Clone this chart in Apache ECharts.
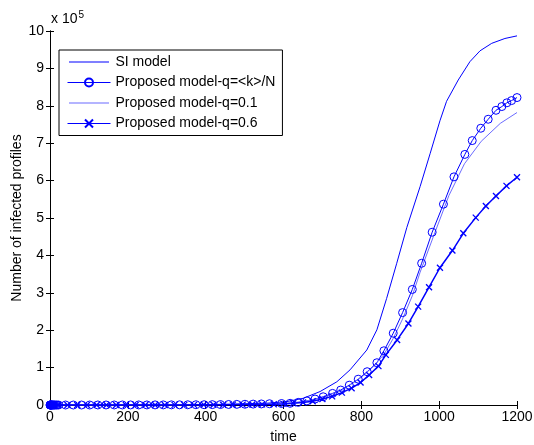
<!DOCTYPE html>
<html>
<head>
<meta charset="utf-8">
<script src="https://cdn.jsdelivr.net/npm/echarts@6/dist/echarts.min.js"></script>
<style>
  html, body { margin: 0; padding: 0; background: #fff; }
  #chart { width: 534px; height: 445px; }
</style>
</head>
<body>
<div id="chart"></div>
<script>
// Infected profiles over time, values in units of 10^5.
const seriesNames = ['SI model', 'Proposed model-q=<k>/N', 'Proposed model-q=0.1', 'Proposed model-q=0.6'];

const siTime = [0, 100, 200, 300, 400, 500, 560, 608, 651, 694, 737, 771, 814, 840, 865, 891, 917, 951, 977, 1002, 1019, 1049, 1079, 1105, 1135, 1169, 1200];
const siValue = [0, 0.001, 0.002, 0.004, 0.01, 0.03, 0.05, 0.09, 0.18, 0.36, 0.62, 0.94, 1.47, 2.01, 2.85, 3.79, 4.75, 5.84, 6.73, 7.60, 8.12, 8.69, 9.18, 9.47, 9.67, 9.80, 9.87];

const kTime = [0, 0.5, 1, 1.5, 2, 3, 4, 5, 6, 8, 10, 12, 15, 18, 22, 40, 60, 81, 102, 123, 144, 165, 186, 207, 228, 249, 270, 291, 312, 333, 354, 375, 396, 417, 438, 459, 480, 501, 522, 543, 564, 595, 617, 638, 660, 681, 702, 726, 747, 769, 792, 815, 840, 858, 882, 906, 931, 955, 982, 1011, 1038, 1066, 1085, 1107, 1126, 1146, 1161, 1174, 1186, 1200];
const kValue = [0, 0, 0, 0, 0, 0, 0, 0, 0, 0, 0, 0, 0, 0, 0, 0, 0, 0, 0, 0.001, 0.001, 0.001, 0.001, 0.002, 0.002, 0.002, 0.003, 0.003, 0.004, 0.005, 0.006, 0.007, 0.008, 0.01, 0.012, 0.014, 0.017, 0.02, 0.024, 0.028, 0.034, 0.04, 0.045, 0.07, 0.11, 0.16, 0.22, 0.31, 0.40, 0.53, 0.69, 0.89, 1.13, 1.45, 1.92, 2.47, 3.09, 3.79, 4.62, 5.37, 6.10, 6.70, 7.07, 7.40, 7.64, 7.88, 7.98, 8.08, 8.14, 8.22];

const q01Time = [0, 200, 400, 500, 600, 650, 700, 750, 800, 830, 858, 882, 906, 931, 951, 985, 1025, 1065, 1108, 1157, 1200];
const q01Value = [0, 0.001, 0.005, 0.015, 0.04, 0.09, 0.2, 0.39, 0.74, 1.02, 1.35, 1.78, 2.3, 2.92, 3.55, 4.50, 5.6, 6.45, 7.05, 7.53, 7.82];

const q06Time = [0, 2, 5, 10, 20, 45, 70, 95, 120, 145, 170, 195, 220, 245, 270, 295, 320, 345, 370, 395, 420, 445, 470, 495, 520, 545, 575, 600, 625, 650, 675, 700, 725, 750, 775, 798, 820, 844, 863, 892, 921, 946, 974, 1002, 1034, 1062, 1094, 1120, 1146, 1173, 1200];
const q06Value = [0, 0, 0, 0, 0, 0, 0, 0, 0, 0.001, 0.001, 0.001, 0.001, 0.002, 0.002, 0.002, 0.003, 0.003, 0.004, 0.005, 0.006, 0.007, 0.009, 0.011, 0.013, 0.016, 0.02, 0.03, 0.045, 0.07, 0.10, 0.16, 0.23, 0.33, 0.45, 0.60, 0.80, 1.04, 1.34, 1.74, 2.18, 2.63, 3.15, 3.67, 4.13, 4.59, 5.01, 5.32, 5.59, 5.86, 6.09];

const xTicks = { min: 0, max: 1200, interval: 200 };
const yTicks = { min: 0, max: 10, interval: 1 };

const pairs = (t, v) => t.map((x, i) => [x, v[i]]);

const FONT = 'Liberation Sans, Arial, sans-serif';
const BLUE = '#0000ff';
const LIGHT_BLUE = '#6b6bff';
// plain line sample for legend entries without markers (move-to points keep the box tall)
const LINE_ICON = 'path://M0,0M0,4.5L40,4.5L40,5.5L0,5.5ZM40,10';

const frameAxis = {
  axisLine: { show: true, lineStyle: { color: '#000', width: 1 } },
  axisTick: { show: true, inside: true, length: 4, lineStyle: { color: '#000' } },
  splitLine: { show: false }
};

const chart = echarts.init(document.getElementById('chart'), null, { renderer: 'canvas' });
chart.setOption({
  backgroundColor: '#fff',
  animation: false,
  textStyle: { fontFamily: FONT },
  title: {
    text: 'x 10{sup|5}',
    left: 51, top: 10, padding: 0,
    textStyle: {
      fontFamily: FONT, fontSize: 14, fontWeight: 'normal', color: '#000',
      rich: { sup: { fontFamily: FONT, fontSize: 10, color: '#000', verticalAlign: 'top', padding: [0, 0, 9, 1] } }
    }
  },
  grid: { left: 50, top: 31, width: 467, height: 374, containLabel: false, outerBoundsMode: 'none' },
  legend: {
    orient: 'vertical',
    left: 59, top: 50,
    data: [
      { name: seriesNames[0], icon: LINE_ICON },
      { name: seriesNames[1] },
      { name: seriesNames[2], icon: LINE_ICON },
      { name: seriesNames[3] }
    ],
    itemWidth: 43, itemHeight: 10,
    itemGap: 6.5,
    padding: [5, 7, 5, 8],
    backgroundColor: '#fff',
    borderColor: '#000', borderWidth: 1, borderRadius: 0,
    lineStyle: { width: 1 },
    textStyle: { fontFamily: FONT, fontSize: 14, color: '#000' }
  },
  xAxis: [
    Object.assign({
      type: 'value', position: 'bottom', min: xTicks.min, max: xTicks.max, interval: xTicks.interval,
      name: 'time', nameLocation: 'middle', nameGap: 25, nameMoveOverlap: false,
      nameTextStyle: { fontFamily: FONT, fontSize: 14, color: '#000' },
      axisLabel: { fontFamily: FONT, fontSize: 14, color: '#000', margin: 5, formatter: v => String(v) }
    }, frameAxis),
    Object.assign({
      type: 'value', position: 'top', min: xTicks.min, max: xTicks.max, interval: xTicks.interval,
      axisLabel: { show: false }
    }, frameAxis)
  ],
  yAxis: [
    Object.assign({
      type: 'value', position: 'left', min: yTicks.min, max: yTicks.max, interval: yTicks.interval,
      name: 'Number of infected profiles', nameLocation: 'middle', nameGap: 26, nameMoveOverlap: false,
      nameTextStyle: { fontFamily: FONT, fontSize: 14, color: '#000' },
      axisLabel: { fontFamily: FONT, fontSize: 14, color: '#000', margin: 6 }
    }, frameAxis),
    Object.assign({
      type: 'value', position: 'right', min: yTicks.min, max: yTicks.max, interval: yTicks.interval,
      axisLabel: { show: false }
    }, frameAxis)
  ],
  series: [
    {
      name: seriesNames[0], type: 'line', data: pairs(siTime, siValue),
      symbol: 'none', lineStyle: { color: BLUE, width: 1 }, itemStyle: { color: BLUE }
    },
    {
      name: seriesNames[1], type: 'line', data: pairs(kTime, kValue),
      symbol: 'circle', symbolSize: 8, showAllSymbol: true,
      lineStyle: { color: BLUE, width: 1 },
      itemStyle: { color: 'rgba(255,255,255,0)', borderColor: BLUE, borderWidth: 1 }
    },
    {
      name: seriesNames[2], type: 'line', data: pairs(q01Time, q01Value),
      symbol: 'none', lineStyle: { color: LIGHT_BLUE, width: 1 }, itemStyle: { color: LIGHT_BLUE }
    },
    {
      name: seriesNames[3], type: 'line', data: pairs(q06Time, q06Value),
      symbol: 'path://M0,0L10,10M10,0L0,10', symbolSize: 6, showAllSymbol: true,
      lineStyle: { color: BLUE, width: 1.5 },
      itemStyle: { color: BLUE, borderColor: BLUE, borderWidth: 1.3 }
    }
  ]
});
</script>
</body>
</html>
